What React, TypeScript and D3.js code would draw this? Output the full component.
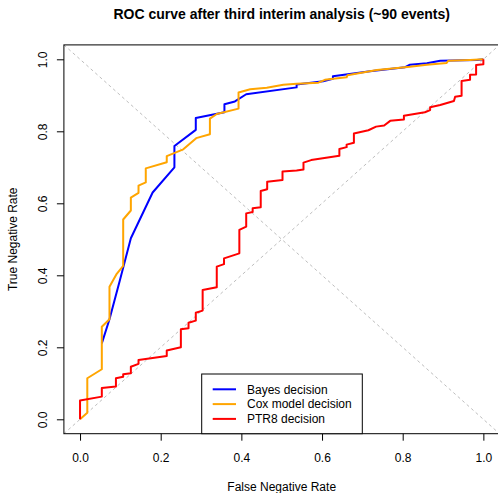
import { useEffect, useRef } from "react"
import * as d3 from "d3"

// ROC points (false negative rate, true negative rate)
const bayesFnr = [0.054, 0.073, 0.099, 0.126, 0.180, 0.234, 0.234, 0.287, 0.287, 0.358, 0.358, 0.384, 0.412, 0.537, 0.537, 0.603, 0.627, 0.627, 0.719, 0.806, 0.818, 0.860, 0.893, 0.984, 1.0]
const bayesTnr = [0.211, 0.278, 0.387, 0.503, 0.630, 0.700, 0.759, 0.804, 0.837, 0.853, 0.875, 0.883, 0.903, 0.922, 0.930, 0.939, 0.946, 0.953, 0.967, 0.978, 0.985, 0.989, 0.996, 0.998, 1.0]

const coxFnr = [0, 0.018, 0.018, 0.054, 0.054, 0.073, 0.073, 0.091, 0.107, 0.107, 0.126, 0.126, 0.145, 0.145, 0.163, 0.163, 0.215, 0.215, 0.256, 0.288, 0.322, 0.322, 0.339, 0.393, 0.393, 0.422, 0.463, 0.504, 0.537, 0.591, 0.607, 0.628, 0.661, 0.663, 0.736, 0.818, 0.860, 0.909, 0.913, 0.967, 1.0]
const coxTnr = [0, 0.018, 0.114, 0.139, 0.257, 0.278, 0.368, 0.404, 0.426, 0.555, 0.580, 0.616, 0.629, 0.649, 0.658, 0.697, 0.714, 0.731, 0.750, 0.781, 0.792, 0.835, 0.848, 0.863, 0.908, 0.917, 0.921, 0.929, 0.932, 0.935, 0.943, 0.946, 0.950, 0.956, 0.970, 0.979, 0.985, 0.990, 0.996, 0.998, 1.0]

const ptrFnr = [0, 0, 0.054, 0.054, 0.089, 0.089, 0.107, 0.107, 0.126, 0.126, 0.145, 0.145, 0.215, 0.215, 0.250, 0.250, 0.269, 0.269, 0.287, 0.287, 0.304, 0.304, 0.339, 0.339, 0.357, 0.357, 0.395, 0.395, 0.412, 0.412, 0.428, 0.428, 0.448, 0.448, 0.464, 0.464, 0.502, 0.502, 0.537, 0.554, 0.554, 0.573, 0.643, 0.643, 0.661, 0.661, 0.679, 0.679, 0.715, 0.734, 0.754, 0.769, 0.803, 0.803, 0.855, 0.868, 0.868, 0.893, 0.927, 0.930, 0.946, 0.946, 0.967, 0.967, 0.982, 0.982, 1.0, 1.0]
const ptrTnr = [0, 0.052, 0.063, 0.087, 0.091, 0.114, 0.118, 0.125, 0.128, 0.146, 0.154, 0.165, 0.176, 0.191, 0.200, 0.250, 0.253, 0.268, 0.274, 0.296, 0.302, 0.359, 0.367, 0.424, 0.431, 0.447, 0.461, 0.526, 0.535, 0.572, 0.576, 0.586, 0.589, 0.634, 0.639, 0.660, 0.665, 0.688, 0.691, 0.694, 0.713, 0.720, 0.732, 0.751, 0.756, 0.763, 0.768, 0.794, 0.803, 0.813, 0.816, 0.829, 0.833, 0.843, 0.853, 0.859, 0.867, 0.873, 0.884, 0.896, 0.899, 0.940, 0.943, 0.957, 0.958, 0.984, 0.986, 1.0]

const seriesNames = ["Bayes decision", "Cox model decision", "PTR8 decision"]
const seriesColors = ["#0000FF", "#FFA500", "#FF0000"]
const tickValues = [0, 0.2, 0.4, 0.6, 0.8, 1.0]

const W = 498
const H = 493

export default function App() {
    const ref = useRef<SVGSVGElement>(null)

    useEffect(() => {
        const svg = d3.select(ref.current)
        svg.selectAll("*").remove()

        const left = 63.9, right = 499.5, top = 44.9, bottom = 433.7
        const x = d3.scaleLinear().domain([-0.04, 1.04]).range([left, right])
        const y = d3.scaleLinear().domain([-0.04, 1.04]).range([bottom, top])
        const font = "'Liberation Sans', Arial, Helvetica, sans-serif"

        svg.append("rect").attr("width", W).attr("height", H).attr("fill", "#fff")

        // reference diagonals
        const diag = svg.append("g")
            .attr("stroke", "#BEBEBE")
            .attr("stroke-width", 1)
            .attr("stroke-dasharray", "3,3")
        diag.append("line")
            .attr("x1", x(-0.04)).attr("y1", y(-0.04))
            .attr("x2", x(1.04)).attr("y2", y(1.04))
        diag.append("line")
            .attr("x1", x(-0.04)).attr("y1", y(1.04))
            .attr("x2", x(1.04)).attr("y2", y(-0.04))

        const series = [
            { fnr: bayesFnr, tnr: bayesTnr },
            { fnr: coxFnr, tnr: coxTnr },
            { fnr: ptrFnr, tnr: ptrTnr },
        ]

        series.forEach((s, i) => {
            const pts: [number, number][] = s.fnr.map((f, j) => [x(f), y(s.tnr[j])])
            svg.append("path")
                .attr("d", d3.line()(pts) ?? "")
                .attr("fill", "none")
                .attr("stroke", seriesColors[i])
                .attr("stroke-width", 2)
                .attr("stroke-linejoin", "round")
        })

        // axes
        const xAxis = svg.append("g")
            .attr("transform", `translate(0,${bottom})`)
            .call(d3.axisBottom(x).tickValues(tickValues).tickSize(7).tickFormat(d3.format(".1f")))
        xAxis.select(".domain").remove()
        xAxis.selectAll("line").attr("stroke", "#000")
        xAxis.selectAll("text")
            .attr("y", 28.5).attr("dy", null)
            .attr("font-size", 12).attr("font-family", font).attr("fill", "#000")

        const yAxis = svg.append("g")
            .attr("transform", `translate(${left},0)`)
            .call(d3.axisLeft(y).tickValues(tickValues).tickSize(7).tickFormat(d3.format(".1f")))
        yAxis.select(".domain").remove()
        yAxis.selectAll("line").attr("stroke", "#000")
        yAxis.selectAll("text")
            .attr("x", null).attr("dy", null)
            .attr("transform", "translate(-17,0) rotate(-90)")
            .attr("text-anchor", "middle")
            .attr("font-size", 12).attr("font-family", font).attr("fill", "#000")

        // box
        svg.append("rect")
            .attr("x", left).attr("y", top)
            .attr("width", right - left).attr("height", bottom - top)
            .attr("fill", "none").attr("stroke", "#000").attr("stroke-width", 1)

        // titles
        svg.append("text")
            .attr("x", (left + right) / 2).attr("y", 19)
            .attr("text-anchor", "middle")
            .attr("font-size", 14).attr("font-weight", "bold").attr("font-family", font)
            .text("ROC curve after third interim analysis (~90 events)")
        svg.append("text")
            .attr("x", (left + right) / 2).attr("y", 491)
            .attr("text-anchor", "middle")
            .attr("font-size", 12).attr("font-family", font)
            .text("False Negative Rate")
        svg.append("text")
            .attr("transform", `translate(16.5,${(top + bottom) / 2}) rotate(-90)`)
            .attr("text-anchor", "middle")
            .attr("font-size", 12).attr("font-family", font)
            .text("True Negative Rate")

        // legend
        const lg = svg.append("g")
        lg.append("rect")
            .attr("x", 201.7).attr("y", 374)
            .attr("width", 160.6).attr("height", bottom - 374)
            .attr("fill", "#fff").attr("stroke", "#000")
        seriesNames.forEach((name, i) => {
            const cy = 389.3 + i * 14.8
            lg.append("line")
                .attr("x1", 212.7).attr("x2", 236)
                .attr("y1", cy).attr("y2", cy)
                .attr("stroke", seriesColors[i]).attr("stroke-width", 2)
            lg.append("text")
                .attr("x", 247).attr("y", cy + 4.3)
                .attr("font-size", 12).attr("font-family", font)
                .text(name)
        })
    }, [])

    return (
        <svg
            ref={ref}
            width={W}
            height={H}
            style={{ position: "absolute", left: 0, top: 0 }}
        />
    )
}
